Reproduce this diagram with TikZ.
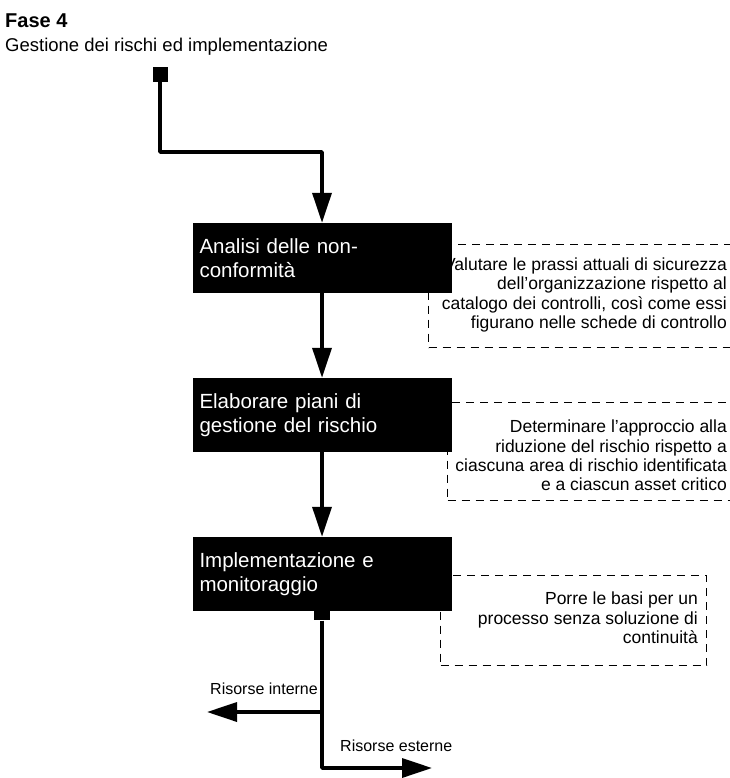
\documentclass[tikz,border=0pt]{standalone}
\usepackage{fontspec}
\setmainfont{Liberation Sans}
\usetikzlibrary{arrows.meta}
\begin{document}
\begin{tikzpicture}[x=1pt,y=-1pt,
  conn/.style={line width=3.5pt, -{Triangle[width=19pt,length=30pt]}, line join=round},
  bigbox/.style={fill=black, text=white, minimum width=259pt, text width=245pt, inner xsep=7pt, inner ysep=0pt, align=left, font=\fontsize{20.5}{24.5}\selectfont},
  notebox/.style={draw, dash pattern=on 8pt off 6pt, line width=1.1pt, inner sep=0pt, anchor=north west},
  notetext/.style={align=right, font=\fontsize{17.5}{19.3}\selectfont, inner sep=0pt, anchor=east},
  lbl/.style={anchor=base west, inner sep=0pt, font=\fontsize{16}{20}\selectfont}]
\useasboundingbox (0,0) rectangle (729,778);
% titles
\node[anchor=base west, inner sep=0pt, font=\fontsize{20}{24}\selectfont\bfseries] (title) at (5,28) {Fase 4};
\node[anchor=base west, inner sep=0pt, font=\fontsize{18.5}{22}\selectfont] (subtitle) at (5,52) {Gestione dei rischi ed implementazione};
% dashed annotation frames
\node[notebox, minimum width=317pt, minimum height=103pt] (n1) at (428,244) {};
\node[notebox, minimum width=300pt, minimum height=98pt] (n2) at (447,402) {};
\node[notebox, minimum width=266pt, minimum height=90pt] (n3) at (440,575) {};
% main boxes
\node[bigbox, minimum height=70pt] (b1) at (322,258) {Analisi delle non-\\conformità};
\node[bigbox, minimum height=74pt] (b2) at (322,415) {Elaborare piani di\\gestione del rischio};
\node[bigbox, minimum height=74pt] (b3) at (322,574) {Implementazione e\\monitoraggio};
% annotation texts
\node[notetext] (t1) at (727,295) {Valutare le prassi attuali di sicurezza\\dell’organizzazione rispetto al\\catalogo dei controlli, così come essi\\figurano nelle schede di controllo};
\node[notetext] (t2) at (727,455.5) {Determinare l’approccio alla\\riduzione del rischio rispetto a\\ciascuna area di rischio identificata\\e a ciascun asset critico};
\node[notetext] (t3) at (698,618) {Porre le basi per un\\processo senza soluzione di\\continuità};
% start
\node[fill=black, minimum size=15pt, inner sep=0pt] (start) at (160,75) {};
\coordinate (k1) at (160,152);
\draw[conn] (start.center) -- (k1) -| (b1.north);
\draw[conn] (b1.south) -- (b2.north);
\draw[conn] (b2.south) -- (b3.north);
% output
\node[fill=black, minimum width=16pt, minimum height=9pt, inner sep=0pt, anchor=north] (tap) at (b3.south) {};
\coordinate (split) at (322,712);
\coordinate (bottom) at (322,768);
\coordinate (endL) at (207,712);
\coordinate (endR) at (432,768);
\draw[conn] (tap.south) -- (bottom) -- (endR);
\draw[conn] (split) -- (endL);
\node[lbl] (lint) at (210,694) {Risorse interne};
\node[lbl] (lext) at (340,751) {Risorse esterne};
\end{tikzpicture}
\end{document}
